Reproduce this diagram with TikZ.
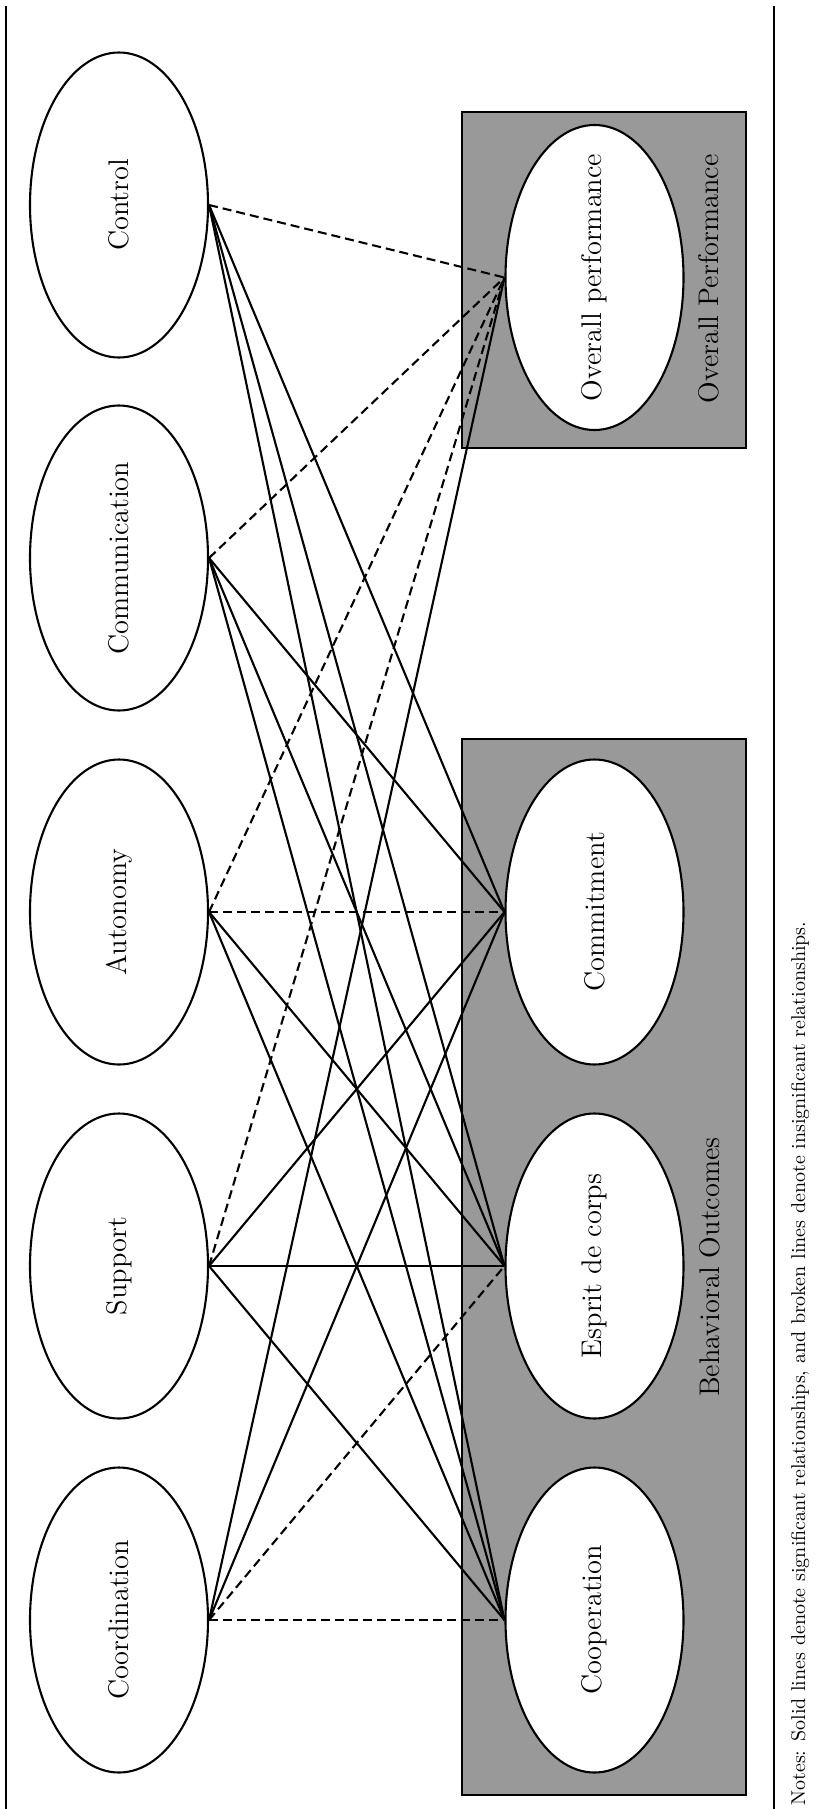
\documentclass[tikz,border=0pt]{standalone}
\usetikzlibrary{shapes.geometric}
\begin{document}
\begin{tikzpicture}[x=0.5pt,y=-0.5pt,
  oval/.style={draw=black,line width=1.05pt,fill=white,ellipse,inner sep=0pt,
    minimum width=89pt,minimum height=152.5pt},
  lbl/.style={rotate=90,font=\fontsize{14.2}{16}\selectfont,inner sep=0pt},
  grpbox/.style={draw=black,line width=1.3pt,fill=black!40,inner sep=0pt,
    minimum width=142pt},
  sig/.style={line width=1.05pt},
  insig/.style={line width=1.05pt,dash pattern=on 4.5pt off 2.5pt},
  frame/.style={line width=1.2pt}]
\useasboundingbox (0,0) rectangle (823,1809);
% group boxes
\node[grpbox,minimum height=168pt] (perfbox) at (604,280) {};
\node[grpbox,minimum height=528pt] (behbox) at (604,1267) {};
\node[lbl] (perft) at (709,279) {Overall Performance};
\node[lbl] (beht) at (710,1267) {Behavioral Outcomes};
% frame rules
\draw[frame] (6,6) -- (6,1809);
\draw[frame] (774,6) -- (774,1809);
% predictor ellipses
\node[oval] (ctrl) at (119,205) {};
\node[oval] (comm) at (119,558) {};
\node[oval] (auto) at (119,912) {};
\node[oval] (supp) at (119,1266) {};
\node[oval] (coord) at (119,1620) {};
\node[lbl] (ctrlt) at (ctrl) {Control};
\node[lbl] (commt) at (comm) {Communication};
\node[lbl] (autot) at (auto) {Autonomy};
\node[lbl] (suppt) at (supp) {Support};
\node[lbl] (coordt) at (coord) {Coordination};
% outcome ellipses
\node[oval] (perf) at (594.5,277.5) {};
\node[oval] (commit) at (594.5,912) {};
\node[oval] (esprit) at (594.5,1266) {};
\node[oval] (coop) at (594.5,1620) {};
\node[lbl] (perfin) at (perf) {Overall performance};
\node[lbl] (committ) at (commit) {Commitment};
\node[lbl] (espritt) at (esprit) {Esprit de corps};
\node[lbl] (coopt) at (coop) {Cooperation};
% relationships
\draw[insig] (ctrl.east) -- (perf.west);
\draw[insig] (comm.east) -- (perf.west);
\draw[insig] (auto.east) -- (perf.west);
\draw[insig] (supp.east) -- (perf.west);
\draw[sig] (coord.east) -- (perf.west);
\draw[sig] (ctrl.east) -- (commit.west);
\draw[sig] (comm.east) -- (commit.west);
\draw[insig] (auto.east) -- (commit.west);
\draw[sig] (supp.east) -- (commit.west);
\draw[sig] (coord.east) -- (commit.west);
\draw[sig] (ctrl.east) -- (esprit.west);
\draw[sig] (comm.east) -- (esprit.west);
\draw[sig] (auto.east) -- (esprit.west);
\draw[sig] (supp.east) -- (esprit.west);
\draw[insig] (coord.east) -- (esprit.west);
\draw[sig] (ctrl.east) -- (coop.west);
\draw[sig] (comm.east) -- (coop.west);
\draw[sig] (auto.east) -- (coop.west);
\draw[sig] (supp.east) -- (coop.west);
\draw[insig] (coord.east) -- (coop.west);
% note
\node[rotate=90,anchor=base west,inner sep=0pt,font=\fontsize{10}{12}\selectfont] (note) at (805,1806)
  {Notes: Solid lines denote significant relationships, and broken lines denote insignificant relationships.};
\end{tikzpicture}
\end{document}
